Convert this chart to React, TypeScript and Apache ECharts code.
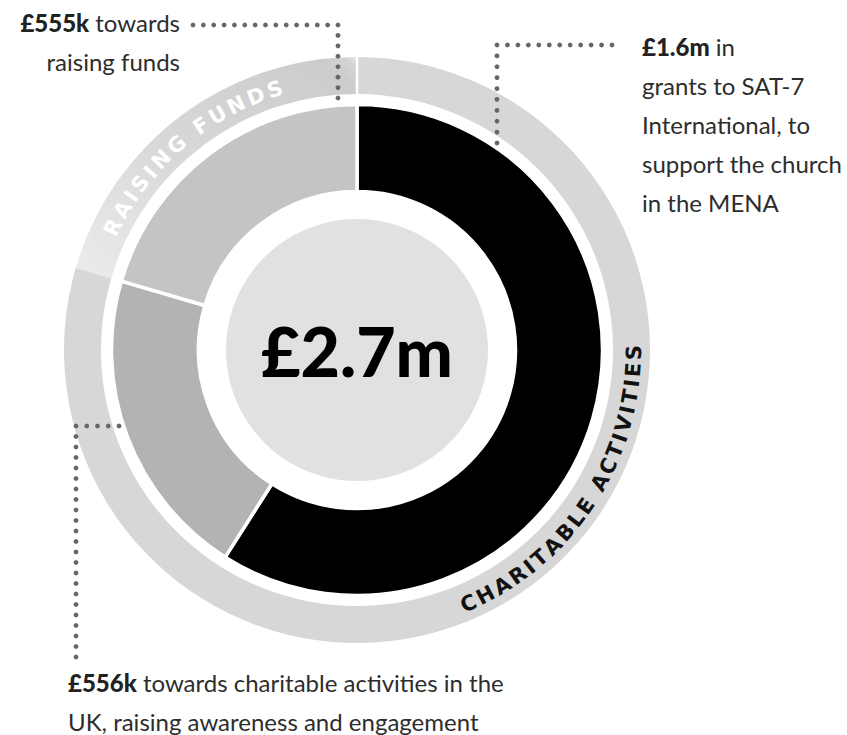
import React, { useEffect, useRef } from 'react';
import * as echarts from 'echarts';

// ---------- data (values in £ thousands) ----------
const categories = ['Grants to SAT-7 International', 'Charitable activities in the UK', 'Raising funds'];
const values = [1600, 556, 555];
const groupNames = ['Charitable activities', 'Raising funds'];
const groupValues = [values[0] + values[1], values[2]];

// callout texts (the amount is prefixed from the values)
const calloutGrants = [' in', 'grants to SAT-7', 'International, to', 'support the church', 'in the MENA'];
const calloutUK = [' towards charitable activities in the', 'UK, raising awareness and engagement'];
const calloutFunds = [' towards', 'raising funds'];

// ---------- layout / style ----------
const W = 847;
const H = 735;
const CX = 357;
const CY = 350;
const INNER_COLORS = ['#000000', '#b3b3b3', '#c4c4c4'];
const RING_COLOR = '#d7d7d7';
const CENTER_COLOR = '#e1e1e1';
const TEXT_COLOR = '#2d2d2d';
const DOT_COLOR = '#666666';
const BODY_FONT = 'Lato, "Noto Sans", sans-serif';
const ARC_FONT = '"DejaVu Sans", "Open Sans", sans-serif';
const FS = 24;
const LH = 39;

const fmt = (k: number) => (k >= 1000 ? '£' + (k / 1000).toFixed(1) + 'm' : '£' + k + 'k');

function textLines(lines: string[], x: number, baseline: number, align: string) {
  return lines.map((t, i) => ({
    type: 'text',
    z: 20,
    x,
    y: baseline + i * LH - 0.387 * FS,
    style: {
      text: t,
      fontFamily: BODY_FONT,
      fontSize: FS,
      fill: TEXT_COLOR,
      align,
      verticalAlign: 'middle',
      lineHeight: 30,
      rich: {
        b: { fontFamily: BODY_FONT, fontSize: FS, fontWeight: 900, fill: '#222', lineHeight: 30 },
      },
    },
  }));
}

function dots(points: number[][], step: number) {
  const out: any[] = [];
  for (let s = 0; s < points.length - 1; s++) {
    const [x0, y0] = points[s];
    const [x1, y1] = points[s + 1];
    const len = Math.hypot(x1 - x0, y1 - y0);
    const n = Math.max(1, Math.round(len / step));
    for (let i = s === 0 ? 0 : 1; i <= n; i++) {
      out.push({
        type: 'circle',
        z: 20,
        shape: { cx: x0 + ((x1 - x0) * i) / n, cy: y0 + ((y1 - y0) * i) / n, r: 2.4 },
        style: { fill: DOT_COLOR },
      });
    }
  }
  return out;
}

function arcText(
  text: string,
  midDeg: number,
  spanDeg: number,
  r: number,
  dir: number,
  fill: string,
  size: number,
  weight: number | string
) {
  const chars = Array.from(text);
  const ctx = document.createElement('canvas').getContext('2d') as CanvasRenderingContext2D;
  ctx.font = `${weight} ${size}px ${ARC_FONT}`;
  const w = chars.map((c) => ctx.measureText(c).width);
  const n = chars.length;
  const natural = w.reduce((a, b) => a + b, 0) - (w[0] + w[n - 1]) / 2;
  const target = (spanDeg * Math.PI) / 180 * r;
  const gap = (target - natural) / (n - 1);
  const centers: number[] = [];
  let acc = 0;
  for (let i = 0; i < n; i++) {
    if (i > 0) acc += w[i - 1] / 2 + gap + w[i] / 2;
    centers.push(acc);
  }
  return chars.map((c, i) => {
    const s = centers[i] - target / 2;
    const th = (midDeg * Math.PI) / 180 + (dir * s) / r;
    return {
      type: 'text',
      z: 20,
      x: CX + r * Math.sin(th),
      y: CY - r * Math.cos(th),
      rotation: dir > 0 ? -th : Math.PI - th,
      style: {
        text: c,
        fontFamily: ARC_FONT,
        fontSize: size,
        fontWeight: weight,
        fill,
        align: 'center',
        verticalAlign: 'middle',
      },
    };
  });
}

export default function App() {
  const ref = useRef<HTMLDivElement>(null);

  useEffect(() => {
    document.body.style.margin = '0';
    const chart = echarts.init(ref.current as HTMLDivElement, null, { renderer: 'svg' });
    const total = values.reduce((a, b) => a + b, 0);

    const graphic: any[] = [
      // white seam at the top of the outer ring
      {
        type: 'line',
        z: 15,
        shape: { x1: CX, y1: CY - 254, x2: CX, y2: CY - 295 },
        style: { stroke: '#ffffff', lineWidth: 2.5 },
      },
      ...arcText(groupNames[1].toUpperCase(), 319.6, 45.8, 273, 1, '#ffffff', 21, 'bold'),
      ...arcText(groupNames[0].toUpperCase(), 123.4, 65.7, 277, -1, '#111111', 21, 'bold'),
      ...dots([[193, 25], [338, 25], [338, 98]], 10.5),
      ...dots([[612, 45], [497, 45], [497, 143]], 10.5),
      ...dots([[119, 426], [76, 426], [76, 657]], 10.5),
      ...textLines(['{b|' + fmt(values[2]) + '}' + calloutFunds[0], calloutFunds[1]], 180, 32, 'right'),
      ...textLines(['{b|' + fmt(values[0]) + '}' + calloutGrants[0], ...calloutGrants.slice(1)], 642, 56, 'left'),
      ...textLines(['{b|' + fmt(values[1]) + '}' + calloutUK[0], calloutUK[1]], 68, 692, 'left'),
    ];

    chart.setOption({
      animation: false,
      backgroundColor: '#ffffff',
      series: [
        {
          name: 'centre',
          type: 'pie',
          silent: true,
          center: [CX, CY],
          radius: [0, 131],
          z: 2,
          emphasis: { disabled: true },
          label: {
            show: true,
            position: 'center',
            formatter: () => fmt(Math.round(total / 100) * 100),
            fontFamily: BODY_FONT,
            fontSize: 68,
            fontWeight: 900,
            color: '#000000',
          },
          labelLine: { show: false },
          itemStyle: { color: CENTER_COLOR },
          data: [{ name: 'Total', value: total }],
        },
        {
          name: 'Expenditure',
          type: 'pie',
          silent: true,
          center: [CX, CY],
          radius: [158.5, 245.5],
          startAngle: 90,
          clockwise: true,
          z: 3,
          emphasis: { disabled: true },
          label: { show: false },
          labelLine: { show: false },
          itemStyle: { borderColor: '#ffffff', borderWidth: 3.5 },
          data: categories.map((name, i) => ({
            name,
            value: values[i],
            itemStyle: { color: INNER_COLORS[i] },
          })),
        },
        {
          name: 'Groups',
          type: 'pie',
          silent: true,
          center: [CX, CY],
          radius: [256, 293],
          startAngle: 90,
          clockwise: true,
          z: 3,
          emphasis: { disabled: true },
          label: { show: false },
          labelLine: { show: false },
          data: groupNames.map((name, i) => ({
            name,
            value: groupValues[i],
            itemStyle: {
              color:
                i === 0
                  ? RING_COLOR
                  : new echarts.graphic.LinearGradient(0, 1, 1, 0, [
                      { offset: 0, color: '#ececec' },
                      { offset: 0.45, color: '#d8d8d8' },
                      { offset: 0.93, color: '#cccccc' },
                      { offset: 0.975, color: '#d4d4d4' },
                      { offset: 1, color: '#e8e8e8' },
                    ]),
            },
          })),
        },
      ],
      graphic,
    });

    return () => chart.dispose();
  }, []);

  return <div ref={ref} style={{ width: W, height: H }} />;
}
